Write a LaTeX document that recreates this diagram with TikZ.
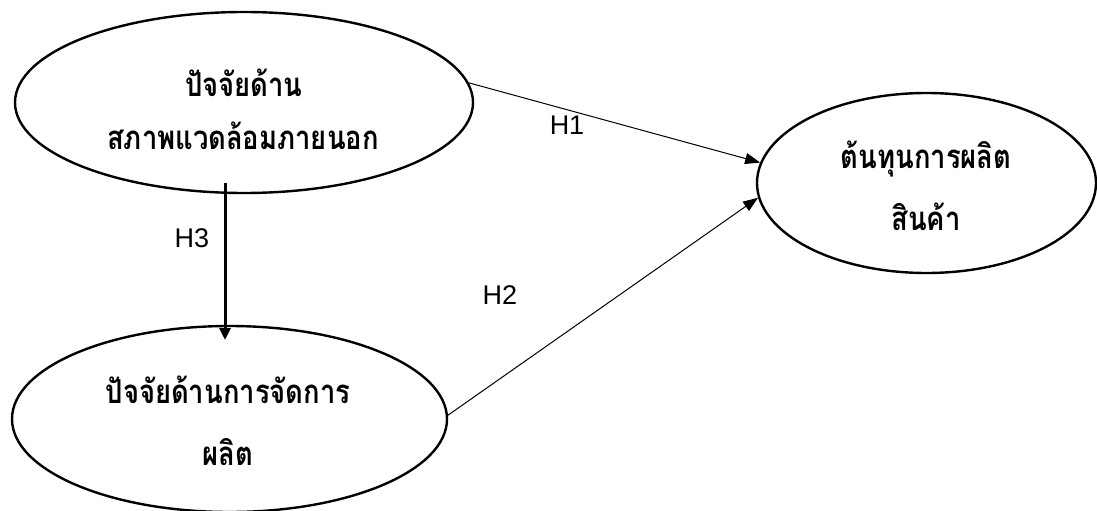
\documentclass[tikz,border=0pt]{standalone}
\usepackage{fontspec}
\setmainfont{Liberation Sans}
\newfontfamily\thaifont[Script=Thai,FakeStretch=0.83]{Loma}
\usetikzlibrary{shapes.geometric,arrows.meta}
\begin{document}
\begin{tikzpicture}[x=1pt,y=-1pt,
  oval/.style={draw,ellipse,line width=2.4pt,inner sep=0pt},
  thai/.style={font=\thaifont\bfseries\fontsize{33}{38}\selectfont,anchor=base,inner sep=0pt},
  hlabel/.style={font=\fontsize{27}{32}\selectfont,inner sep=0pt},
  thin/.style={line width=1pt,-{Triangle[length=15pt,width=11pt]}},
  thick/.style={line width=3pt,-{Triangle[length=12pt,width=11pt]}}]
\useasboundingbox (0,0) rectangle (1097,511);
\node[oval,minimum width=458pt,minimum height=181pt] (A) at (244,102.5) {};
\node[oval,minimum width=435pt,minimum height=186pt] (B) at (229.5,419) {};
\node[oval,minimum width=339pt,minimum height=180pt] (C) at (926.5,183) {};
\node[thai] (a1) at (244,96) {ปัจจัยด้าน};
\node[thai] (a2) at (243,149) {สภาพแวดล้อมภายนอก};
\node[thai] (b1) at (228,403) {ปัจจัยด้านการจัดการ};
\node[thai] (b2) at (228,465) {ผลิต};
\node[thai] (c1) at (926,168) {ต้นทุนการผลิต};
\node[thai] (c2) at (926,230) {สินค้า};
\coordinate (h3s) at (225,183);
\coordinate (h3e) at (225,340);
\draw[thin] (A.5) -- (C.173);
\draw[thin] (B.1) -- (C.185);
\draw[thick] (h3s) -- (h3e);
\node[hlabel] (h1) at (567,125) {H1};
\node[hlabel] (h2) at (500,295) {H2};
\node[hlabel] (h3) at (192,238) {H3};
\end{tikzpicture}
\end{document}
